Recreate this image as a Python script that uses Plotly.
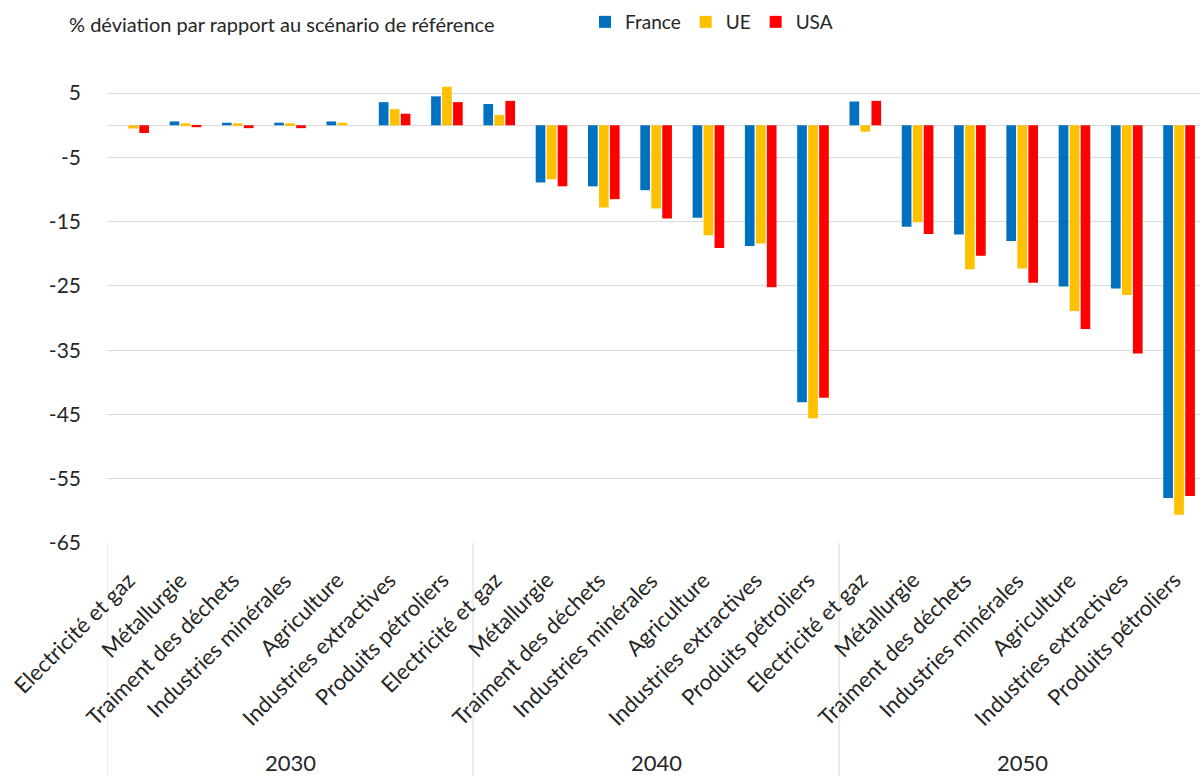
import plotly.graph_objects as go

years = ["2030", "2040", "2050"]
sectors = ["Electricité et gaz", "Métallurgie", "Traiment des déchets", "Industries minérales",
           "Agriculture", "Industries extractives", "Produits pétroliers"]

france = [0.0, 0.6, 0.4, 0.4, 0.6, 3.6, 4.5,
          3.3, -8.9, -9.5, -10.1, -14.4, -18.8, -43.1,
          3.7, -15.8, -17.0, -18.0, -25.1, -25.4, -58.0]
ue = [-0.5, 0.3, 0.3, 0.3, 0.4, 2.5, 6.0,
      1.6, -8.4, -12.8, -12.95, -17.1, -18.4, -45.6,
      -1.0, -15.1, -22.4, -22.3, -28.9, -26.4, -60.6]
usa = [-1.2, -0.3, -0.45, -0.45, 0.0, 1.8, 3.6,
       3.8, -9.5, -11.5, -14.5, -19.1, -25.2, -42.4,
       3.8, -16.9, -20.3, -24.5, -31.7, -35.5, -57.7]

series = [("France", france, "#0070C0"), ("UE", ue, "#FFC000"), ("USA", usa, "#FF0000")]
yticks = [5, -5, -15, -25, -35, -45, -55, -65]

labels = [s for y in years for s in sectors]
xs = list(range(len(labels)))
FONT = "Lato"
TXT = "#262626"

fig = go.Figure()
for name, vals, col in series:
    fig.add_trace(go.Bar(x=xs, y=vals, name=name, marker=dict(color=col, line=dict(width=0))))

n = len(sectors)
shapes = []
annotations = []
for g, yr in enumerate(years):
    shapes.append(dict(type="line", xref="x", yref="paper", x0=g * n - 0.5, x1=g * n - 0.5,
                       y0=0, y1=-0.6, line=dict(color="#D9D9D9", width=1)))
    annotations.append(dict(text=yr, xref="x", yref="paper", x=g * n + (n - 1) / 2, y=-0.456,
                            showarrow=False, yanchor="middle",
                            font=dict(size=22, color=TXT, family=FONT)))
for xi, lab in zip(xs, labels):
    annotations.append(dict(text=lab, xref="x", yref="paper", x=xi, y=0, textangle=-45,
                            xanchor="right", yanchor="top", xshift=8, yshift=-22,
                            showarrow=False, borderpad=0,
                            font=dict(size=22, color=TXT, family=FONT)))

fig.update_layout(
    width=1200, height=776,
    margin=dict(l=107, r=0, t=61, b=233),
    paper_bgcolor="white", plot_bgcolor="white",
    barmode="group", bargap=0.37, bargroupgap=0.12,
    font=dict(family=FONT, size=20, color=TXT),
    title=dict(text="% déviation par rapport au scénario de référence", xref="container", yref="container",
               x=69 / 1200, xanchor="left", y=1 - 25 / 776, yanchor="middle",
               font=dict(size=20, color=TXT, family=FONT)),
    legend=dict(orientation="h", xref="container", yref="container", x=585 / 1200, xanchor="left",
                y=1 - 22 / 776, yanchor="middle", font=dict(size=19, color=TXT, family=FONT),
                bgcolor="rgba(0,0,0,0)", itemwidth=30),
    xaxis=dict(range=[-0.5, 20.4], tickmode="array", tickvals=xs, showticklabels=False,
               showgrid=False, zeroline=False, showline=False, ticks=""),
    yaxis=dict(range=[-65, 10], tickmode="array", tickvals=yticks, ticktext=[str(v) for v in yticks],
               showgrid=True, gridcolor="#D9D9D9", gridwidth=1, zeroline=True, zerolinecolor="#D9D9D9",
               zerolinewidth=1, showline=False, ticks="", ticklabelstandoff=25,
               tickfont=dict(size=21, color=TXT, family=FONT)),
    shapes=shapes, annotations=annotations,
)

fig.write_html("out.html")
